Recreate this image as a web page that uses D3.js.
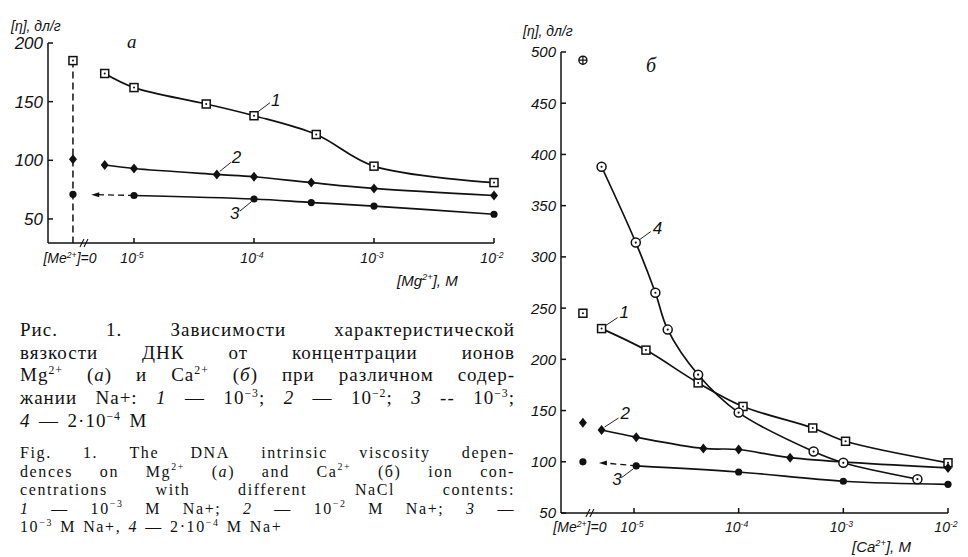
<!DOCTYPE html>
<html><head><meta charset="utf-8">
<script src="https://cdn.jsdelivr.net/npm/d3@7"></script>
<style>
html,body{margin:0;padding:0;background:#fff;}
svg{display:block;}
</style></head><body>
<script>
// ---------------- DATA ----------------
// x ticks (concentration, M)
const xTickConc = [1e-5, 1e-4, 1e-3, 1e-2];
const xTickExp = ["-5", "-4", "-3", "-2"];
// pseudo-position of the "[Me2+]=0" point on the log axis (axis break)
const zeroPosA = 3.1e-6;
const zeroPosB = 3.25e-6;
// y ticks
const yTicksA = [50, 100, 150, 200];
const yTicksB = [50, 100, 150, 200, 250, 300, 350, 400, 450, 500];

// Panel а: Mg2+
const a1Conc = [5.7e-6, 1e-5, 4e-5, 1e-4, 3.3e-4, 1e-3, 1e-2];
const a1Vals = [174, 162, 148, 138, 122, 95, 81];
const a1Zero = 185;
const a2Conc = [5.7e-6, 1e-5, 4.9e-5, 1e-4, 3e-4, 1e-3, 1e-2];
const a2Vals = [96, 93, 88, 86, 81, 76, 70];
const a2Zero = 101;
const a3Conc = [1e-5, 1e-4, 3e-4, 1e-3, 1e-2];
const a3Vals = [70, 67, 64, 61, 54];
const a3Zero = 71;

// Panel б: Ca2+
const b1Conc = [4.9e-6, 1.3e-5, 4.1e-5, 1.1e-4, 5.1e-4, 1.05e-3, 1e-2];
const b1Vals = [230, 209, 177, 154, 133, 120, 99];
const b1Zero = 245;
const b2Conc = [4.9e-6, 1.05e-5, 4.6e-5, 1e-4, 3.1e-4, 1e-2];
const b2Vals = [131, 124, 113, 112, 104, 94];
const b2Zero = 138;
const b3Conc = [1.05e-5, 1e-4, 1e-3, 1e-2];
const b3Vals = [96, 90, 81, 78];
const b3Zero = 100;
const b4Conc = [4.9e-6, 1.04e-5, 1.6e-5, 2.1e-5, 4.1e-5, 1e-4, 5.2e-4, 1e-3, 5.1e-3];
const b4Vals = [388, 314, 265, 229, 185, 148, 110, 99, 83];
const b4Zero = 492;

// caption lines
const captionRu = [
  "Рис. 1. Зависимости характеристической",
  "вязкости ДНК от концентрации ионов",
  "Mg^{2+} (*а*) и Ca^{2+} (*б*) при различном содер-",
  "жании Na+: *1* — 10^{−3}; *2* — 10^{−2}; *3* -- 10^{−3};",
  "*4* — 2·10^{−4} M"
];
const captionEn = [
  "Fig. 1. The DNA intrinsic viscosity depen-",
  "dences on Mg^{2+} (*a*) and Ca^{2+} (б) ion con-",
  "centrations with different NaCl contents:",
  "*1* — 10^{−3} M Na+; *2* — 10^{−2} M Na+; *3* —",
  "10^{−3} M Na+, *4* — 2·10^{−4} M Na+"
];

// ---------------- DRAWING ----------------
const W = 968, H = 557;
const svg = d3.select("body").append("svg").attr("width", W).attr("height", H)
  .style("font-family", "'Liberation Sans', Arial, sans-serif");

const AX = "'Liberation Sans', Arial, sans-serif";

function rich(t, str, size) {
  const re = /\^\{([^}]*)\}|\*([^*]*)\*|([^\^*]+)/g;
  let m, up = false;
  while ((m = re.exec(str))) {
    if (m[1] !== undefined) {
      t.append("tspan").attr("dy", -size * 0.38).attr("font-size", size * 0.62).text(m[1]);
      up = true;
    } else {
      const ts = t.append("tspan").text(m[2] !== undefined ? m[2] : m[3]);
      if (m[2] !== undefined) ts.attr("font-style", "italic");
      if (up) { ts.attr("dy", size * 0.38); up = false; }
    }
  }
}

function panel(cfg) {
  const g = svg.append("g");
  const x = d3.scaleLog().domain([1e-5, 1e-2]).range(cfg.xRange);
  const y = d3.scaleLinear().domain(cfg.yDomain).range([cfg.bottom, cfg.top]);
  const line = d3.line().x(d => x(d[0])).y(d => y(d[1]));
  const sw = 1.5;

  // axes
  g.append("line").attr("x1", cfg.left).attr("x2", cfg.left).attr("y1", cfg.bottom).attr("y2", cfg.top)
    .attr("stroke", "#111").attr("stroke-width", sw);
  g.append("line").attr("x1", cfg.left).attr("x2", x(1e-2)).attr("y1", cfg.bottom).attr("y2", cfg.bottom)
    .attr("stroke", "#111").attr("stroke-width", sw);
  // y ticks
  cfg.yTicks.forEach(v => {
    g.append("line").attr("x1", cfg.left).attr("x2", cfg.left + 5).attr("y1", y(v)).attr("y2", y(v))
      .attr("stroke", "#111").attr("stroke-width", sw);
    g.append("text").attr("x", cfg.left - 5).attr("y", y(v) + cfg.yFs * 0.36)
      .attr("text-anchor", "end").attr("font-style", "italic").attr("font-size", cfg.yFs)
      .attr("font-family", AX).attr("fill", "#111").text(v);
  });
  // x ticks
  xTickConc.forEach((c, i) => {
    g.append("line").attr("x1", x(c)).attr("x2", x(c)).attr("y1", cfg.bottom).attr("y2", cfg.bottom - 5)
      .attr("stroke", "#111").attr("stroke-width", sw);
    const t = g.append("text").attr("x", x(c) - 2).attr("y", cfg.xLabY).attr("text-anchor", "middle")
      .attr("font-style", "italic").attr("font-size", cfg.xFs).attr("fill", "#111");
    rich(t, "10^{" + xTickExp[i] + "}", cfg.xFs);
  });
  // zero label
  const zt = g.append("text").attr("x", x(cfg.zeroPos) - 3).attr("y", cfg.xLabY).attr("text-anchor", "middle")
    .attr("font-style", "italic").attr("font-size", cfg.xFs).attr("fill", "#111");
  rich(zt, "[Me^{2+}]=0", cfg.xFs);
  // axis break //
  const bx = x(cfg.zeroPos) + cfg.breakOff;
  [0, 4].forEach(o => {
    g.append("line").attr("x1", bx + o - 2).attr("x2", bx + o + 2)
      .attr("y1", cfg.bottom + 4).attr("y2", cfg.bottom - 4)
      .attr("stroke", "#111").attr("stroke-width", 1.1);
  });
  // x title
  const xt = g.append("text").attr("x", cfg.xTitle[0]).attr("y", cfg.xTitle[1])
    .attr("font-style", "italic").attr("font-size", cfg.xFs + 1).attr("fill", "#111");
  rich(xt, cfg.xTitleText, cfg.xFs + 1);
  // y title
  g.append("text").attr("x", cfg.yTitle[0]).attr("y", cfg.yTitle[1])
    .attr("font-style", "italic").attr("font-size", cfg.xFs).attr("fill", "#111").text("[η], дл/г");
  // panel letter
  g.append("text").attr("x", cfg.letter[0]).attr("y", cfg.letter[1])
    .attr("font-style", "italic").attr("font-size", cfg.letterFs).attr("fill", "#111")
    .attr("font-family", "'Liberation Serif', serif").text(cfg.letterText);

  // vertical dashed line
  if (cfg.vDash) {
    g.append("line").attr("x1", x(cfg.zeroPos)).attr("x2", x(cfg.zeroPos))
      .attr("y1", y(cfg.vDash)).attr("y2", cfg.bottom)
      .attr("stroke", "#111").attr("stroke-width", 1.5).attr("stroke-dasharray", "7,4");
  }

  // series lines
  cfg.series.forEach(s => {
    const pts = s.conc.map((c, i) => [c, s.vals[i]]);
    g.append("path").datum(pts).attr("d", line.curve(d3.curveCatmullRom.alpha(0.5)))
      .attr("fill", "none").attr("stroke", "#111").attr("stroke-width", 1.7);
  });
  // dashed arrow for series 3
  if (cfg.arrow) {
    const s = cfg.arrow;
    const x0 = x(s.conc[0]), y0 = y(s.vals[0]);
    const xz = x(cfg.zeroPos), yz = y(s.zero);
    const xt2 = x0 + (xz - x0) * 0.7, yt2 = y0 + (yz - y0) * 0.7;
    g.append("line").attr("x1", x0).attr("y1", y0).attr("x2", xt2 + 6).attr("y2", yt2)
      .attr("stroke", "#111").attr("stroke-width", 1.3).attr("stroke-dasharray", "6,4");
    g.append("path").attr("d", `M${xt2},${yt2}L${xt2 + 8},${yt2 - 2.5}L${xt2 + 8},${yt2 + 2.5}Z`).attr("fill", "#111");
  }
  // markers
  cfg.series.forEach(s => {
    s.conc.forEach((c, i) => marker(g, s.mk, x(c), y(s.vals[i])));
    if (s.zero !== undefined) marker(g, s.zeroMk || s.mk, x(cfg.zeroPos), y(s.zero));
  });

  // number labels with leaders
  cfg.labels.forEach(l => {
    const s = cfg.series[l.s];
    const px = x(s.conc[l.i]), py = y(s.vals[l.i]);
    g.append("line").attr("x1", px + l.l[0]).attr("y1", py + l.l[1]).attr("x2", px + l.l[2]).attr("y2", py + l.l[3])
      .attr("stroke", "#222").attr("stroke-width", 1);
    g.append("text").attr("x", px + l.t[0]).attr("y", py + l.t[1]).attr("font-style", "italic")
      .attr("font-size", 17).attr("fill", "#111").text(l.text);
  });
}

function marker(g, mk, cx, cy) {
  if (mk === "sq") {
    g.append("rect").attr("x", cx - 4).attr("y", cy - 4).attr("width", 8).attr("height", 8)
      .attr("fill", "#fff").attr("stroke", "#111").attr("stroke-width", 1.5);
    g.append("circle").attr("cx", cx).attr("cy", cy).attr("r", 1).attr("fill", "#111");
  } else if (mk === "dm") {
    g.append("path").attr("d", `M${cx},${cy - 5}L${cx + 4},${cy}L${cx},${cy + 5}L${cx - 4},${cy}Z`).attr("fill", "#111");
  } else if (mk === "dot") {
    g.append("circle").attr("cx", cx).attr("cy", cy).attr("r", 3.6).attr("fill", "#111");
  } else if (mk === "oc") {
    g.append("circle").attr("cx", cx).attr("cy", cy).attr("r", 4.5).attr("fill", "#fff")
      .attr("stroke", "#111").attr("stroke-width", 1.5);
    g.append("circle").attr("cx", cx).attr("cy", cy).attr("r", 1.1).attr("fill", "#111");
  } else if (mk === "oplus") {
    g.append("circle").attr("cx", cx).attr("cy", cy).attr("r", 4).attr("fill", "#fff")
      .attr("stroke", "#111").attr("stroke-width", 1.4);
    g.append("path").attr("d", `M${cx - 4},${cy}H${cx + 4}M${cx},${cy - 4}V${cy + 4}`)
      .attr("stroke", "#111").attr("stroke-width", 1.2);
  }
}

// Panel а
panel({
  xRange: [134, 494], yDomain: [29.5, 200], top: 43, bottom: 243, left: 48,
  zeroPos: zeroPosA, yTicks: yTicksA, yFs: 17, xFs: 14, xLabY: 263, breakOff: 9,
  xTitle: [397, 286], xTitleText: "[Mg^{2+}], M", yTitle: [11, 31],
  letter: [127, 48], letterFs: 19, letterText: "а",
  vDash: a1Zero,
  series: [
    { conc: a1Conc, vals: a1Vals, zero: a1Zero, mk: "sq" },
    { conc: a2Conc, vals: a2Vals, zero: a2Zero, mk: "dm" },
    { conc: a3Conc, vals: a3Vals, zero: a3Zero, mk: "dot" }
  ],
  arrow: { conc: a3Conc, vals: a3Vals, zero: a3Zero },
  labels: [
    { s: 0, i: 3, l: [4, -4, 16, -13], t: [17, -10], text: "1" },
    { s: 1, i: 2, l: [3, -3, 14, -12], t: [15, -11], text: "2" },
    { s: 2, i: 1, l: [-3, 3, -14, 12], t: [-24, 20], text: "3" }
  ]
});

// Panel б
panel({
  xRange: [634, 948], yDomain: [50, 500], top: 52, bottom: 513, left: 561,
  zeroPos: zeroPosB, yTicks: yTicksB, yFs: 15, xFs: 14, xLabY: 532, breakOff: 5,
  xTitle: [852, 552], xTitleText: "[Ca^{2+}], M", yTitle: [523, 36],
  letter: [646, 72], letterFs: 20, letterText: "б",
  series: [
    { conc: b1Conc, vals: b1Vals, zero: b1Zero, mk: "sq" },
    { conc: b2Conc, vals: b2Vals, zero: b2Zero, mk: "dm" },
    { conc: b3Conc, vals: b3Vals, zero: b3Zero, mk: "dot" },
    { conc: b4Conc, vals: b4Vals, zero: b4Zero, mk: "oc", zeroMk: "oplus" }
  ],
  arrow: { conc: b3Conc, vals: b3Vals, zero: b3Zero },
  labels: [
    { s: 3, i: 1, l: [4, -3, 15, -11], t: [17, -9], text: "4" },
    { s: 0, i: 0, l: [4, -3, 16, -11], t: [18, -11], text: "1" },
    { s: 1, i: 0, l: [3, -3, 17, -12], t: [19, -11], text: "2" },
    { s: 2, i: 0, l: [-3, 3, -15, 12], t: [-24, 19], text: "3" }
  ]
});

// caption
function justified(lines, x0, x1, y0, lh, fs, ls) {
  const g = svg.append("g").attr("font-family", "'Liberation Serif', 'Times New Roman', serif")
    .attr("font-size", fs).attr("fill", "#111").attr("letter-spacing", ls);
  lines.forEach((ln, li) => {
    const words = ln.split(" ");
    const nodes = words.map(w => { const t = g.append("text").attr("y", y0 + li * lh); rich(t, w, fs); return t; });
    const widths = nodes.map(n => n.node().getComputedTextLength());
    const total = d3.sum(widths);
    const last = li === lines.length - 1;
    const gap = last ? fs * 0.45 : (x1 - x0 - total) / Math.max(1, words.length - 1);
    let x = x0;
    nodes.forEach((n, i) => { n.attr("x", x); x += widths[i] + gap; });
  });
}
justified(captionRu, 20, 515, 336, 22.7, 19, 1.0);
justified(captionEn, 20, 515, 458, 18.5, 16, 1.6);
</script>
</body></html>
